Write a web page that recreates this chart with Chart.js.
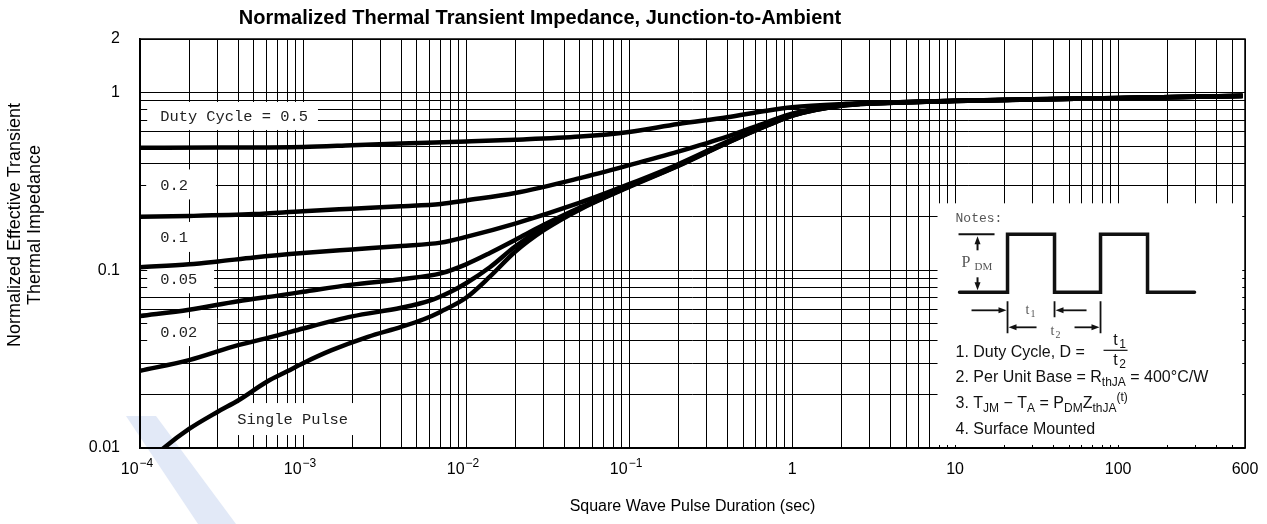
<!DOCTYPE html>
<html lang="en">
<head>
<meta charset="UTF-8">
<title>Normalized Thermal Transient Impedance</title>
<script src="https://cdn.jsdelivr.net/npm/chart.js"></script>
<style>
    html, body {
        margin: 0;
        padding: 0;
        background: #fff;
        overflow: hidden;
    }
    canvas { display: block; }
</style>
</head>
<body>
<canvas id="zthChart" width="1267" height="524"></canvas>
<script>
// axis ranges and labelled ticks
const xMin = 1e-4, xMax = 600;
const yMin = 0.01, yMax = 2;
const xTickValues = [1e-4, 1e-3, 1e-2, 1e-1, 1, 10, 100, 600];
const xTickBase = ['10', '10', '10', '10', '1', '10', '100', '600'];
const xTickExp = ['−4', '−3', '−2', '−1', '', '', '', ''];
const yTickValues = [0.01, 0.1, 1, 2];
const yTickLabels = ['0.01', '0.1', '1', '2'];

// pulse duration (s) / normalized Zth
const tD50 = [1e-4, 3e-4, 1e-3, 2e-3, 4e-3, 1e-2, 2e-2, 5e-2, 0.1, 0.2, 0.4, 0.7, 1, 2, 5, 10, 30, 100, 300, 580];
const zD50 = [0.489, 0.490, 0.494, 0.505, 0.517, 0.530, 0.542, 0.565, 0.600, 0.665, 0.725, 0.790, 0.825, 0.860, 0.885, 0.900, 0.915, 0.930, 0.948, 0.958];

const tD20 = [1e-4, 2e-4, 5e-4, 1e-3, 2e-3, 4e-3, 7e-3, 1e-2, 2e-2, 5e-2, 0.1, 0.2, 0.4, 0.7, 1, 2, 5, 10, 30, 100, 300, 580];
const zD20 = [0.200, 0.202, 0.207, 0.215, 0.222, 0.229, 0.236, 0.247, 0.272, 0.330, 0.390, 0.465, 0.565, 0.680, 0.760, 0.850, 0.883, 0.898, 0.915, 0.930, 0.948, 0.958];

const tD10 = [1e-4, 2e-4, 3e-4, 5e-4, 1e-3, 2e-3, 4e-3, 7e-3, 1e-2, 2e-2, 5e-2, 0.1, 0.2, 0.4, 0.7, 1, 2, 5, 10, 30, 100, 300, 580];
const zD10 = [0.104, 0.108, 0.112, 0.118, 0.125, 0.131, 0.137, 0.143, 0.154, 0.183, 0.240, 0.305, 0.395, 0.530, 0.660, 0.750, 0.848, 0.882, 0.898, 0.915, 0.930, 0.948, 0.958];

const tD05 = [1e-4, 2e-4, 4e-4, 7e-4, 1e-3, 2e-3, 4e-3, 7e-3, 1e-2, 1.4e-2, 2e-2, 3e-2, 5e-2, 0.1, 0.2, 0.4, 0.7, 1, 2, 5, 10, 30, 100, 300, 580];
const zD05 = [0.0553, 0.0600, 0.0670, 0.0720, 0.0756, 0.0830, 0.0890, 0.0960, 0.108, 0.125, 0.148, 0.180, 0.225, 0.298, 0.390, 0.525, 0.655, 0.745, 0.845, 0.881, 0.897, 0.914, 0.929, 0.947, 0.957];

const tD02 = [1e-4, 2e-4, 4e-4, 7e-4, 1e-3, 2e-3, 4e-3, 6e-3, 8e-3, 1e-2, 1.4e-2, 2e-2, 3e-2, 5e-2, 0.1, 0.2, 0.4, 0.7, 1, 2, 5, 10, 30, 100, 300, 580];
const zD02 = [0.0272, 0.0312, 0.0379, 0.0430, 0.0470, 0.0550, 0.0615, 0.0675, 0.0755, 0.0845, 0.104, 0.136, 0.174, 0.222, 0.296, 0.388, 0.522, 0.652, 0.742, 0.843, 0.880, 0.897, 0.914, 0.929, 0.947, 0.957];

const tSingle = [1.2e-4, 1.4e-4, 2e-4, 3e-4, 4e-4, 6e-4, 8e-4, 1e-3, 1.5e-3, 2.5e-3, 4e-3, 5.5e-3, 7e-3, 1e-2, 1.4e-2, 2e-2, 3e-2, 5e-2, 0.1, 0.2, 0.4, 0.7, 1, 2, 5, 10, 30, 100, 300, 580];
const zSingle = [0.0088, 0.0100, 0.0128, 0.0160, 0.0185, 0.0236, 0.0270, 0.0300, 0.0355, 0.0422, 0.0480, 0.0530, 0.0585, 0.0700, 0.092, 0.127, 0.168, 0.220, 0.294, 0.386, 0.520, 0.650, 0.740, 0.842, 0.880, 0.897, 0.914, 0.929, 0.947, 0.957];

// curve labels: text left edge / vertical centre in data units
const curveLabels = [
    { text: 'Duty Cycle = 0.5', x: 1.33e-4, y: 0.738, padL: 13, padR: 10, h: 28 },
    { text: '0.2', x: 1.33e-4, y: 0.304, padL: 14, padR: 28, h: 30 },
    { text: '0.1', x: 1.33e-4, y: 0.154, padL: 14, padR: 28, h: 30 },
    { text: '0.05', x: 1.33e-4, y: 0.089, padL: 13, padR: 17, h: 28 },
    { text: '0.02', x: 1.33e-4, y: 0.0449, padL: 13, padR: 20, h: 28 },
    { text: 'Single Pulse', x: 3.95e-4, y: 0.01455, padL: 15, padR: 6, h: 32 }
];
// notes panel corners in data units
const notesBox = { x0: 7.8, x1: 577, y0: 0.238, y1: 0.0104 };

function logGrid(min, max) {
    const out = [];
    for (let e = Math.floor(Math.log10(min)); e <= Math.ceil(Math.log10(max)); e++) {
        for (let m = 1; m <= 9; m++) {
            const v = +(m * Math.pow(10, e)).toPrecision(6);
            if (v >= min * 0.999 && v <= max * 1.001) out.push(v);
        }
    }
    if (out[out.length - 1] !== max) out.push(max);
    return out;
}
const xGrid = logGrid(xMin, xMax);
const yGrid = logGrid(yMin, yMax);

function labelFor(v, values, labels) {
    const i = values.findIndex(t => Math.abs(t - v) / t < 1e-6);
    return i >= 0 ? labels[i] : '';
}

function series(label, ts, zs) {
    return {
        label: label,
        data: ts.map((t, i) => ({ x: t, y: zs[i] })),
        borderColor: '#000',
        borderWidth: 4.5,
        pointRadius: 0,
        fill: false,
        cubicInterpolationMode: 'monotone'
    };
}

function arrow(ctx, x1, y1, x2, y2) {
    const a = Math.atan2(y2 - y1, x2 - x1);
    ctx.beginPath();
    ctx.moveTo(x1, y1);
    ctx.lineTo(x2 - 6 * Math.cos(a), y2 - 6 * Math.sin(a));
    ctx.stroke();
    ctx.beginPath();
    ctx.moveTo(x2, y2);
    ctx.lineTo(x2 - 8 * Math.cos(a) + 3 * Math.sin(a), y2 - 8 * Math.sin(a) - 3 * Math.cos(a));
    ctx.lineTo(x2 - 8 * Math.cos(a) - 3 * Math.sin(a), y2 - 8 * Math.sin(a) + 3 * Math.cos(a));
    ctx.closePath();
    ctx.fill();
}

function richText(ctx, x, y, parts, size) {
    parts.forEach(([t, k]) => {
        const s = k === 'n' ? size : Math.round(size * 0.78);
        ctx.font = s + 'px "Liberation Sans", Arial, sans-serif';
        const dy = k === 'sub' ? size * 0.32 : (k === 'sup' ? -size * 0.38 : 0);
        ctx.fillText(t, x, y + dy);
        x += ctx.measureText(t).width;
    });
}

const decorPlugin = {
    id: 'decor',
    beforeDraw(chart) {
        const ctx = chart.ctx;
        ctx.save();
        ctx.fillStyle = '#fff';
        ctx.fillRect(0, 0, chart.width, chart.height);
        // faint watermark in the lower left
        ctx.fillStyle = '#e2e9f7';
        ctx.beginPath();
        ctx.moveTo(126, 416);
        ctx.lineTo(156, 416);
        ctx.lineTo(236, 524);
        ctx.lineTo(198, 524);
        ctx.closePath();
        ctx.fill();
        ctx.restore();
    },
    beforeDatasetsDraw(chart) {
        const ctx = chart.ctx;
        const xs = chart.scales.x, ys = chart.scales.y;
        ctx.save();
        // curve labels
        ctx.font = '15.4px "Liberation Mono", monospace';
        ctx.textBaseline = 'middle';
        curveLabels.forEach(l => {
            const px = xs.getPixelForValue(l.x);
            const py = ys.getPixelForValue(l.y);
            const w = ctx.measureText(l.text).width;
            ctx.fillStyle = '#fff';
            ctx.fillRect(px - l.padL, py - l.h / 2, w + l.padL + l.padR, l.h);
            ctx.fillStyle = '#222';
            ctx.fillText(l.text, px, py + 1);
        });

        // notes panel
        const bx = xs.getPixelForValue(notesBox.x0);
        const by = ys.getPixelForValue(notesBox.y0);
        const bx1 = xs.getPixelForValue(notesBox.x1);
        const by1 = ys.getPixelForValue(notesBox.y1);
        ctx.fillStyle = '#fff';
        ctx.fillRect(bx, by, bx1 - bx, by1 - by);

        ctx.fillStyle = '#555';
        ctx.font = '13px "Liberation Mono", monospace';
        ctx.fillText('Notes:', bx + 18, by + 15);

        // square wave
        ctx.strokeStyle = '#111';
        ctx.lineWidth = 3.5;
        ctx.lineJoin = 'miter';
        ctx.lineCap = 'round';
        ctx.beginPath();
        ctx.moveTo(bx + 22, by + 89);
        ctx.lineTo(bx + 70, by + 89);
        ctx.lineTo(bx + 70, by + 31);
        ctx.lineTo(bx + 117, by + 31);
        ctx.lineTo(bx + 117, by + 89);
        ctx.lineTo(bx + 163, by + 89);
        ctx.lineTo(bx + 163, by + 31);
        ctx.lineTo(bx + 210, by + 31);
        ctx.lineTo(bx + 210, by + 89);
        ctx.lineTo(bx + 257, by + 89);
        ctx.stroke();

        // P_DM dimension
        ctx.lineCap = 'butt';
        ctx.lineWidth = 2;
        ctx.fillStyle = '#111';
        ctx.beginPath();
        ctx.moveTo(bx + 21, by + 31);
        ctx.lineTo(bx + 57, by + 31);
        ctx.stroke();
        arrow(ctx, bx + 40, by + 47, bx + 40, by + 33);
        arrow(ctx, bx + 40, by + 74, bx + 40, by + 87);
        ctx.fillStyle = '#555';
        ctx.font = '16px "Liberation Serif", serif';
        ctx.fillText('P', bx + 24, by + 59);
        ctx.font = '11px "Liberation Serif", serif';
        ctx.fillText('DM', bx + 37, by + 64);

        // t1 / t2 dimensions
        ctx.fillStyle = '#111';
        ctx.lineWidth = 1.8;
        ctx.beginPath();
        ctx.moveTo(bx + 70, by + 98); ctx.lineTo(bx + 70, by + 130);
        ctx.moveTo(bx + 117, by + 98); ctx.lineTo(bx + 117, by + 114);
        ctx.moveTo(bx + 163, by + 98); ctx.lineTo(bx + 163, by + 130);
        ctx.stroke();
        arrow(ctx, bx + 34, by + 107, bx + 69, by + 107);
        arrow(ctx, bx + 149, by + 107, bx + 118, by + 107);
        arrow(ctx, bx + 99, by + 124, bx + 71, by + 124);
        arrow(ctx, bx + 137, by + 124, bx + 162, by + 124);
        ctx.fillStyle = '#555';
        ctx.font = '14px "Liberation Serif", serif';
        ctx.fillText('t', bx + 88, by + 107);
        ctx.fillText('t', bx + 113, by + 128);
        ctx.font = '10px "Liberation Serif", serif';
        ctx.fillText('1', bx + 93, by + 111);
        ctx.fillText('2', bx + 118, by + 132);

        // numbered notes
        ctx.fillStyle = '#111';
        richText(ctx, bx + 18, by + 149, [['1. Duty Cycle, D =', 'n']], 16);
        ctx.font = '16px "Liberation Sans", Arial, sans-serif';
        ctx.textAlign = 'center';
        ctx.fillText('t', bx + 178, by + 137);
        ctx.fillText('t', bx + 178, by + 157);
        ctx.font = '12px "Liberation Sans", Arial, sans-serif';
        ctx.fillText('1', bx + 185, by + 141);
        ctx.fillText('2', bx + 185, by + 161);
        ctx.textAlign = 'left';
        ctx.lineWidth = 1.2;
        ctx.strokeStyle = '#111';
        ctx.beginPath();
        ctx.moveTo(bx + 166, by + 147);
        ctx.lineTo(bx + 190, by + 147);
        ctx.stroke();
        richText(ctx, bx + 18, by + 174, [['2. Per Unit Base = R', 'n'], ['thJA', 'sub'], [' = 400°C/W', 'n']], 16);
        richText(ctx, bx + 18, by + 200, [['3. T', 'n'], ['JM', 'sub'], [' − T', 'n'], ['A', 'sub'], [' = P', 'n'], ['DM', 'sub'], ['Z', 'n'], ['thJA', 'sub'], ['(t)', 'sup']], 16);
        richText(ctx, bx + 18, by + 226, [['4. Surface Mounted', 'n']], 16);
        ctx.restore();
    },
    afterDraw(chart) {
        const ctx = chart.ctx;
        const a = chart.chartArea;
        const xs = chart.scales.x;
        ctx.save();
        ctx.strokeStyle = '#000';
        ctx.lineWidth = 1.5;
        ctx.strokeRect(a.left, a.top, a.right - a.left, a.bottom - a.top);

        // x tick labels with raised exponents
        ctx.fillStyle = '#000';
        ctx.textBaseline = 'middle';
        ctx.textAlign = 'left';
        xTickValues.forEach((v, i) => {
            const base = xTickBase[i], exp = xTickExp[i];
            ctx.font = '16px "Liberation Sans", Arial, sans-serif';
            const wb = ctx.measureText(base).width;
            ctx.font = '12px "Liberation Sans", Arial, sans-serif';
            const we = exp ? ctx.measureText(exp).width + 1 : 0;
            const left = xs.getPixelForValue(v) - (wb + we) / 2 - (exp ? 3 : 0);
            ctx.font = '16px "Liberation Sans", Arial, sans-serif';
            ctx.fillText(base, left, a.bottom + 22);
            if (exp) {
                ctx.font = '12px "Liberation Sans", Arial, sans-serif';
                ctx.fillText(exp, left + wb + 1, a.bottom + 16);
            }
        });

        // chart title
        ctx.textAlign = 'center';
        ctx.font = 'bold 20px "Liberation Sans", Arial, sans-serif';
        ctx.fillText('Normalized Thermal Transient Impedance, Junction-to-Ambient', 540, 18);
        // y axis title, two lines
        ctx.translate(0, 225);
        ctx.rotate(-Math.PI / 2);
        ctx.font = '18px "Liberation Sans", Arial, sans-serif';
        ctx.fillText('Normalized Effective Transient', 0, 15);
        ctx.fillText('Thermal Impedance', 0, 35);
        ctx.restore();
    }
};

const tickFont = { family: '"Liberation Sans", Arial, sans-serif', size: 16 };

new Chart(document.getElementById('zthChart'), {
    type: 'line',
    data: {
        datasets: [
            series('D = 0.5', tD50, zD50),
            series('D = 0.2', tD20, zD20),
            series('D = 0.1', tD10, zD10),
            series('D = 0.05', tD05, zD05),
            series('D = 0.02', tD02, zD02),
            series('Single Pulse', tSingle, zSingle)
        ]
    },
    options: {
        responsive: false,
        animation: false,
        events: [],
        layout: { padding: { left: 0, right: 22, top: 39, bottom: 0 } },
        plugins: {
            legend: { display: false },
            tooltip: { enabled: false },
            title: { display: false }
        },
        scales: {
            x: {
                type: 'logarithmic',
                min: xMin,
                max: xMax,
                afterBuildTicks: s => { s.ticks = xGrid.map(v => ({ value: v })); },
                afterFit: s => { s.height = 76; },
                grid: { color: '#000', lineWidth: 1, drawTicks: false },
                border: { color: '#000', width: 1.5 },
                ticks: {
                    autoSkip: false,
                    maxRotation: 0,
                    padding: 13,
                    color: '#000',
                    font: tickFont,
                    // labels are drawn by the plugin so the exponents can be raised
                    callback: () => ''
                },
                title: {
                    display: true,
                    text: 'Square Wave Pulse Duration (sec)',
                    color: '#000',
                    font: tickFont,
                    padding: { top: 0, bottom: 8 }
                }
            },
            y: {
                type: 'logarithmic',
                min: yMin,
                max: yMax,
                afterBuildTicks: s => { s.ticks = yGrid.map(v => ({ value: v })); },
                afterFit: s => { s.width = 140; },
                grid: { color: '#000', lineWidth: 1, drawTicks: false },
                border: { color: '#000', width: 1.5 },
                ticks: {
                    autoSkip: false,
                    padding: 20,
                    color: '#000',
                    font: tickFont,
                    callback: v => labelFor(v, yTickValues, yTickLabels)
                }
            }
        }
    },
    plugins: [decorPlugin]
});
</script>
</body>
</html>
